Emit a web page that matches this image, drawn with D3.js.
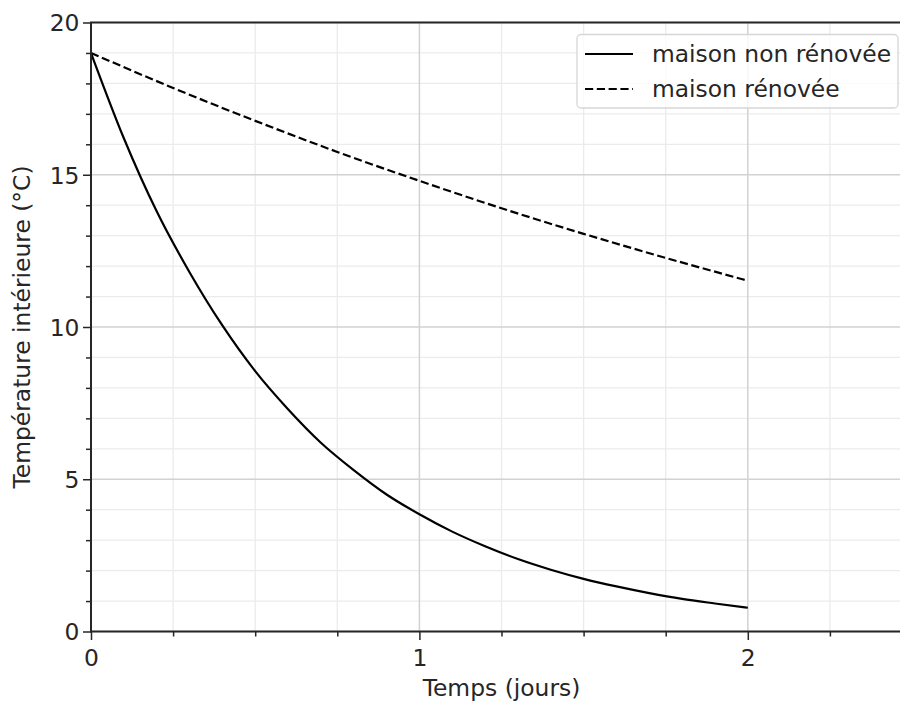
<!DOCTYPE html>
<html>
<head>
<meta charset="utf-8">
<script src="https://cdn.jsdelivr.net/npm/d3@7"></script>
<style>
  body { margin: 0; background: #fff; }
  svg { display: block; font-family: "DejaVu Sans", sans-serif; }
</style>
</head>
<body>
<div id="chart"></div>
<script>
// values
const timeNonRenovee = [0, 0.1, 0.2, 0.3, 0.4, 0.5, 0.6, 0.7, 0.8, 0.9, 1.0,
    1.1, 1.2, 1.3, 1.4, 1.5, 1.6, 1.7, 1.8, 1.9, 2.0];
const tempNonRenovee = [19, 16.2, 13.8, 11.8, 10.05, 8.55, 7.3, 6.2, 5.3, 4.5, 3.85,
    3.28, 2.8, 2.38, 2.03, 1.73, 1.48, 1.26, 1.07, 0.92, 0.78];

const timeRenovee = [0, 0.25, 0.5, 0.75, 1.0, 1.25, 1.5, 1.75, 2.0];
const tempRenovee = [19, 17.85, 16.77, 15.75, 14.8, 13.9, 13.06, 12.27, 11.52];

const seriesNames = ['maison non rénovée', 'maison rénovée'];
const xMajorTicks = [0, 1, 2];
const xMinorTicks = [0.25, 0.5, 0.75, 1.25, 1.5, 1.75, 2.25];
const yMajorTicks = [0, 5, 10, 15, 20];
const yMinorTicks = [1, 2, 3, 4, 6, 7, 8, 9, 11, 12, 13, 14, 16, 17, 18, 19];

const width = 900, height = 702;
const margin = { top: 22.5, right: -12, bottom: 70.5, left: 91 };
const fontSize = 23.4;
const dash = '8.2,3.6';

const svg = d3.select('#chart').append('svg')
    .attr('width', width)
    .attr('height', height);

const x = d3.scaleLinear().domain([0, 2.5]).range([margin.left, width - margin.right]);
const y = d3.scaleLinear().domain([0, 20]).range([height - margin.bottom, margin.top]);

// grid
const grid = svg.append('g');
grid.selectAll('.vminor').data(xMinorTicks).enter().append('line')
    .attr('x1', d => x(d)).attr('x2', d => x(d))
    .attr('y1', y(0)).attr('y2', y(20))
    .attr('stroke', '#ebebeb').attr('stroke-width', 1.3);
grid.selectAll('.hminor').data(yMinorTicks).enter().append('line')
    .attr('x1', x(0)).attr('x2', x(2.5))
    .attr('y1', d => y(d)).attr('y2', d => y(d))
    .attr('stroke', '#ebebeb').attr('stroke-width', 1.3);
grid.selectAll('.vmajor').data(xMajorTicks).enter().append('line')
    .attr('x1', d => x(d)).attr('x2', d => x(d))
    .attr('y1', y(0)).attr('y2', y(20))
    .attr('stroke', '#d2d2d2').attr('stroke-width', 1.5);
grid.selectAll('.hmajor').data(yMajorTicks).enter().append('line')
    .attr('x1', x(0)).attr('x2', x(2.5))
    .attr('y1', d => y(d)).attr('y2', d => y(d))
    .attr('stroke', '#d2d2d2').attr('stroke-width', 1.5);

// lines
const line = d3.line()
    .x(d => x(d[0]))
    .y(d => y(d[1]))
    .curve(d3.curveMonotoneX);

svg.append('path')
    .datum(d3.zip(timeNonRenovee, tempNonRenovee))
    .attr('d', line)
    .attr('fill', 'none')
    .attr('stroke', '#000')
    .attr('stroke-width', 2.2);

svg.append('path')
    .datum(d3.zip(timeRenovee, tempRenovee))
    .attr('d', line)
    .attr('fill', 'none')
    .attr('stroke', '#000')
    .attr('stroke-width', 2.2)
    .attr('stroke-dasharray', dash);

// axes
const xAxis = svg.append('g')
    .attr('transform', `translate(0,${y(0)})`)
    .call(d3.axisBottom(x).tickValues(xMajorTicks).tickFormat(d3.format('d')).tickSize(8.5).tickPadding(9));
const xMinor = svg.append('g')
    .attr('transform', `translate(0,${y(0)})`)
    .call(d3.axisBottom(x).tickValues(xMinorTicks).tickFormat('').tickSize(5));
const yAxis = svg.append('g')
    .attr('transform', `translate(${x(0)},0)`)
    .call(d3.axisLeft(y).tickValues(yMajorTicks).tickSize(8).tickPadding(16));
const yMinor = svg.append('g')
    .attr('transform', `translate(${x(0)},0)`)
    .call(d3.axisLeft(y).tickValues(yMinorTicks).tickFormat('').tickSize(5));

[xAxis, xMinor, yAxis, yMinor].forEach(g => {
    g.select('.domain').remove();
    g.selectAll('.tick line').attr('stroke', '#262626').attr('stroke-width', 1.5);
    g.selectAll('text')
        .attr('font-family', '"DejaVu Sans", sans-serif')
        .attr('font-size', fontSize)
        .attr('fill', '#262626');
});
yAxis.selectAll('text').attr('dy', '0.36em').attr('x', -11.5);

// spines
svg.append('line')
    .attr('x1', x(0)).attr('x2', x(0)).attr('y1', y(0)).attr('y2', y(20))
    .attr('stroke', '#262626').attr('stroke-width', 2);
svg.append('line')
    .attr('x1', x(0) - 1).attr('x2', x(2.5)).attr('y1', y(0)).attr('y2', y(0))
    .attr('stroke', '#262626').attr('stroke-width', 2);
svg.append('line')
    .attr('x1', x(0) - 1).attr('x2', x(2.5)).attr('y1', y(20)).attr('y2', y(20))
    .attr('stroke', '#262626').attr('stroke-width', 2);

// axis labels
svg.append('text')
    .attr('x', (x(0) + x(2.5)) / 2)
    .attr('y', 696)
    .attr('text-anchor', 'middle')
    .attr('font-size', fontSize)
    .attr('fill', '#262626')
    .text('Temps (jours)');

svg.append('text')
    .attr('transform', `translate(30,${(y(0) + y(20)) / 2}) rotate(-90)`)
    .attr('text-anchor', 'middle')
    .attr('font-size', fontSize)
    .attr('fill', '#262626')
    .text('Température intérieure (°C)');

// legend
const legend = svg.append('g');
legend.append('rect')
    .attr('x', 577).attr('y', 34.5)
    .attr('width', 321).attr('height', 73.5)
    .attr('rx', 4)
    .attr('fill', 'rgba(255,255,255,0.8)')
    .attr('stroke', '#d6d6d6')
    .attr('stroke-width', 1.3);

const legendItems = legend.selectAll('.item')
    .data(seriesNames)
    .enter().append('g')
    .attr('transform', (d, i) => `translate(585,${54 + i * 35})`);
legendItems.append('line')
    .attr('x1', 0).attr('x2', 48)
    .attr('stroke', '#000')
    .attr('stroke-width', 2.2)
    .attr('stroke-dasharray', (d, i) => i === 1 ? dash : null);
legendItems.append('text')
    .attr('x', 67)
    .attr('dy', '0.36em')
    .attr('font-size', fontSize)
    .attr('fill', '#262626')
    .text(d => d);
</script>
</body>
</html>
